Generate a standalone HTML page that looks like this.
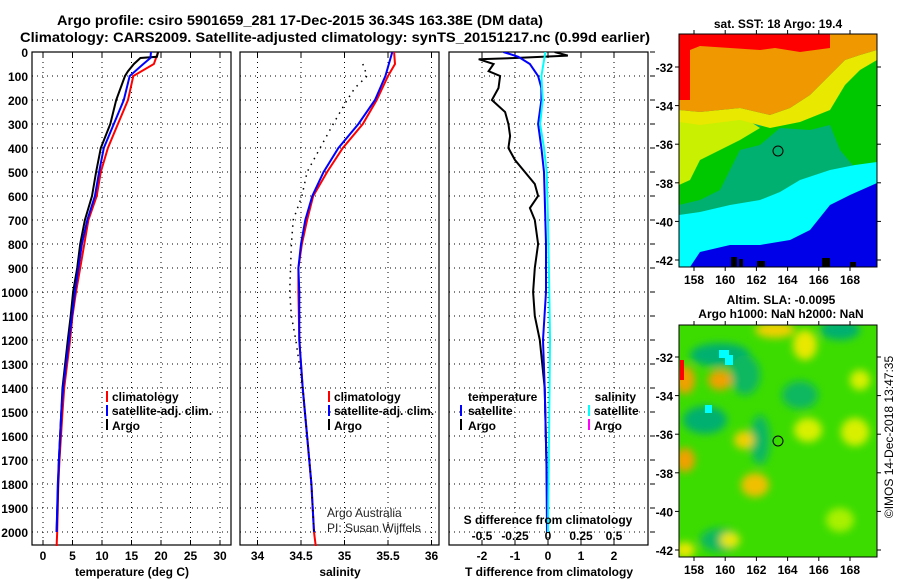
<!DOCTYPE html>
<html><head><meta charset="utf-8">
<style>
html,body{margin:0;padding:0;background:#fff;}
svg{display:block;font-family:"Liberation Sans",sans-serif;}
.b{font-weight:bold;}
</style></head>
<body>
<svg id="fig" width="900" height="580" viewBox="0 0 900 580" xmlns="http://www.w3.org/2000/svg">
<defs>
<filter id="blur" x="-20%" y="-20%" width="140%" height="140%"><feGaussianBlur stdDeviation="4"/></filter>
<clipPath id="clipM1"><rect x="679" y="34" width="198" height="233"/></clipPath>
<clipPath id="clipM2"><rect x="679" y="325" width="198" height="232"/></clipPath>
<clipPath id="clipP1"><rect x="32" y="52" width="199" height="494"/></clipPath>
<clipPath id="clipP2"><rect x="240" y="52" width="199" height="494"/></clipPath>
<clipPath id="clipP3"><rect x="449" y="52" width="199" height="494"/></clipPath>
</defs>
<text class="b" x="300" y="25" font-size="14" text-anchor="middle" textLength="486" lengthAdjust="spacingAndGlyphs">Argo profile: csiro 5901659_281 17-Dec-2015 36.34S 163.38E (DM data)</text>
<text class="b" x="335" y="42" font-size="14" text-anchor="middle" textLength="630" lengthAdjust="spacingAndGlyphs">Climatology: CARS2009. Satellite-adjusted climatology: synTS_20151217.nc (0.99d earlier)</text>

<!-- Map 1 -->
<g clip-path="url(#clipM1)">
<rect x="679" y="34" width="198" height="233" fill="#00b070"/>
<polygon fill="#00c800" points="679,135 720,132 750,128 790,122 820,110 840,80 877,55 877,175 855,168 840,150 830,125 810,130 780,128 760,145 740,150 730,170 720,190 700,200 679,205"/>
<polygon fill="#c8f000" points="679,118 700,122 740,115 760,128 740,140 720,150 700,160 690,180 679,185"/>
<polygon fill="#e8e800" points="679,110 700,112 740,108 770,115 790,108 810,95 825,80 835,70 845,60 860,55 877,50 877,60 860,70 845,85 830,110 800,122 770,128 740,120 700,125 679,122"/>
<polygon fill="#f09800" points="679,34 877,34 877,50 860,55 845,60 835,70 825,80 810,95 790,108 770,115 740,108 700,112 679,110"/>
<polygon fill="#ff0000" points="679,34 830,34 830,48 800,52 775,48 760,50 700,46 690,50 690,100 679,100"/>
<rect x="830" y="34" width="47" height="14" fill="#f09800"/>
<polygon fill="#00ffff" points="679,215 700,212 730,205 760,200 780,192 800,180 830,170 855,165 877,162 877,267 679,267"/>
<polygon fill="#0000e8" points="690,267 700,252 730,245 760,245 790,240 810,230 830,205 850,195 877,183 877,267"/>
<rect x="731" y="257" width="6" height="10" fill="#000"/><rect x="739" y="259" width="4" height="8" fill="#000"/><rect x="757" y="261" width="8" height="6" fill="#000"/><rect x="822" y="258" width="8" height="9" fill="#000"/><rect x="850" y="262" width="6" height="5" fill="#000"/>
<circle cx="778" cy="151" r="5" fill="none" stroke="#000" stroke-width="1"/>
</g>
<rect x="679" y="34" width="198" height="233" fill="none" stroke="#000"/>
<text class="b" x="778" y="28" font-size="12" text-anchor="middle">sat. SST: 18 Argo: 19.4</text>

<!-- Map 2 -->
<g clip-path="url(#clipM2)">
<rect x="679" y="325" width="198" height="232" fill="#3cdc00"/>
<g filter="url(#blur)">
<ellipse cx="720" cy="355" rx="30" ry="12" fill="#00b070"/>
<ellipse cx="705" cy="420" rx="22" ry="14" fill="#00b070"/>
<ellipse cx="840" cy="330" rx="20" ry="10" fill="#00b070"/>
<ellipse cx="760" cy="440" rx="10" ry="25" fill="#10b860"/>
<ellipse cx="745" cy="375" rx="15" ry="20" fill="#10b860"/>
<ellipse cx="720" cy="540" rx="20" ry="12" fill="#10b860"/>
<ellipse cx="800" cy="395" rx="18" ry="14" fill="#10b860"/>
<ellipse cx="720" cy="380" rx="12" ry="10" fill="#f0a000"/>
<ellipse cx="685" cy="380" rx="10" ry="14" fill="#f0a000"/>
<ellipse cx="685" cy="460" rx="10" ry="12" fill="#f0a000"/>
<ellipse cx="755" cy="485" rx="14" ry="12" fill="#f0c000"/>
<ellipse cx="744" cy="440" rx="10" ry="9" fill="#f0d000"/>
<ellipse cx="775" cy="330" rx="20" ry="8" fill="#f0d000"/>
<ellipse cx="805" cy="345" rx="12" ry="15" fill="#e8e800"/>
<ellipse cx="808" cy="430" rx="14" ry="12" fill="#d8f000"/>
<ellipse cx="855" cy="432" rx="14" ry="14" fill="#d8f000"/>
<ellipse cx="860" cy="380" rx="10" ry="10" fill="#d8f000"/>
<ellipse cx="730" cy="540" rx="10" ry="8" fill="#e8e800"/>
<ellipse cx="685" cy="550" rx="10" ry="8" fill="#e8e800"/>
<ellipse cx="840" cy="520" rx="14" ry="12" fill="#a8f000"/>
</g>
<rect x="680" y="360" width="4" height="20" fill="#ff0000"/>
<rect x="719" y="350" width="10" height="8" fill="#00ffff"/><rect x="725" y="355" width="8" height="10" fill="#00ffff"/><rect x="705" y="405" width="7" height="8" fill="#00ffff"/>
<circle cx="778" cy="441" r="5" fill="none" stroke="#000" stroke-width="1"/>
</g>
<rect x="679" y="325" width="198" height="232" fill="none" stroke="#000"/>
<text class="b" x="781" y="304" font-size="12" text-anchor="middle">Altim. SLA: -0.0095</text>
<text class="b" x="781" y="318" font-size="12" text-anchor="middle">Argo h1000: NaN h2000: NaN</text>
<text x="897" y="441" font-size="12" text-anchor="middle" transform="rotate(-90 893 441)">©IMOS 14-Dec-2018 13:47:35</text>

<g id="plots"></g>

<!-- legends & annotations -->
<g class="b" font-size="12">
<rect x="106" y="391" width="2" height="11" fill="#f00"/><text x="112" y="401">climatology</text>
<rect x="106" y="405" width="2" height="11" fill="#00f"/><text x="112" y="415">satellite-adj. clim.</text>
<rect x="106" y="419" width="2" height="11" fill="#000"/><text x="112" y="430">Argo</text>
</g>
<g class="b" font-size="12">
<rect x="328" y="391" width="2" height="11" fill="#f00"/><text x="334" y="401">climatology</text>
<rect x="328" y="405" width="2" height="11" fill="#00f"/><text x="334" y="415">satellite-adj. clim.</text>
<rect x="328" y="419" width="2" height="11" fill="#000"/><text x="334" y="430">Argo</text>
</g>
<g class="b" font-size="12">
<text x="468" y="401">temperature</text>
<text x="636" y="401" text-anchor="end">salinity</text>
<rect x="460" y="405" width="2" height="11" fill="#00f"/><text x="468" y="415">satellite</text>
<rect x="460" y="419" width="2" height="11" fill="#000"/><text x="468" y="430">Argo</text>
<rect x="588" y="405" width="2" height="11" fill="#0ff"/><text x="594" y="415">satellite</text>
<rect x="588" y="419" width="2" height="11" fill="#f0f"/><text x="594" y="430">Argo</text>
</g>
<text x="327" y="517" font-size="12" fill="#222">Argo Australia</text>
<text x="327" y="532" font-size="12" fill="#222">PI: Susan Wijffels</text>
<text class="b" x="548" y="524" font-size="12" text-anchor="middle">S difference from climatology</text>
</svg>
<script>
// ---------- data ----------
const depthTicks = [0,100,200,300,400,500,600,700,800,900,1000,1100,1200,1300,1400,1500,1600,1700,1800,1900,2000];
const tempTicks = [0,5,10,15,20,25,30];
const salTicks = [34,34.5,35,35.5,36];
const salTickLabels = ["34","34.5","35","35.5","36"];
const tdiffTicks = [-2,-1,0,1,2];
const sdiffTicks = [-0.5,-0.25,0,0.25,0.5];
const sdiffTickLabels = ["-0.5","-0.25","0","0.25","0.5"];

const tempClimDepth = [0,50,100,200,300,400,500,600,700,800,900,1000,1100,1200,1400,1500,1700,1800,2000,2060];
const tempClim = [19.5,18.8,15.3,14.4,12.7,11.0,9.8,9.1,7.7,7.0,6.3,5.6,5.0,4.6,3.6,3.3,2.8,2.6,2.4,2.3];
const tempSatDepth = [0,25,50,100,200,300,400,500,600,700,800,1000,1200,1400,1500,1700,1800,2000];
const tempSat = [18.3,18.2,17.0,14.7,13.7,12.0,10.3,9.5,8.8,7.5,6.6,5.4,4.4,3.4,3.1,2.7,2.5,2.3];
const tempArgoDepth = [0,20,25,50,80,100,200,300,400,500,600,700,800,900,1000,1100,1200,1400,1700,2000];
const tempArgo = [19.5,19.3,16.5,15.4,14.4,13.9,12.4,11.4,9.8,9.0,8.3,7.1,6.3,5.8,5.1,4.7,4.2,3.3,2.7,2.3];

const salClimDepth = [0,50,100,200,300,400,500,600,700,800,900,1000,1200,1400,1600,1800,2000,2060];
const salClim = [35.57,35.58,35.5,35.37,35.21,34.98,34.8,34.64,34.57,34.51,34.47,34.47,34.48,34.52,34.57,34.62,34.65,34.67];
const salSatDepth = [0,100,200,300,400,500,600,700,800,900,1000,1200,1400,1600,1800,2000];
const salSat = [35.55,35.47,35.35,35.16,34.93,34.76,34.63,34.55,34.5,34.47,34.48,34.48,34.52,34.57,34.62,34.65];
const salArgoDepth = [50,100,150,200,300,400,500,600,700,800,1000,1100,1200,1400,1600,1800,2000];
const salArgo = [35.21,35.26,35.12,35.03,34.87,34.72,34.57,34.51,34.41,34.39,34.37,34.39,34.44,34.52,34.57,34.62,34.65];

const tdiffArgoDepth = [0,15,25,30,50,80,100,150,200,250,300,350,400,450,500,550,600,650,700,800,900,1000,1100,1200,1400,1700,2000];
const tdiffArgo = [0.2,0.6,-1.0,-2.1,-1.65,-1.8,-1.45,-1.5,-1.7,-1.3,-1.2,-1.15,-1.2,-1.0,-0.7,-0.4,-0.3,-0.55,-0.4,-0.3,-0.4,-0.45,-0.4,-0.25,-0.1,-0.05,0];
const tdiffSatDepth = [0,20,50,100,150,200,300,400,500,600,800,1000,1200,1400,1700,2000];
const tdiffSat = [-1.35,-0.9,-0.55,-0.3,-0.2,-0.2,-0.3,-0.2,-0.12,-0.1,-0.06,-0.06,-0.15,-0.1,-0.05,-0.03];
const sdiffSatDepth = [0,100,200,300,400,500,700,1000,1200,1500,2000];
const sdiffSat = [-0.02,-0.05,-0.04,-0.06,-0.03,-0.01,0,0.01,0.015,0.01,0];

const mapLonTicks = [158,160,162,164,166,168];
const mapLatTicks = [-32,-34,-36,-38,-40,-42];

// ---------- axes ----------
const NS = "http://www.w3.org/2000/svg";
const root = document.getElementById('plots');
const yD = d => 52 + 0.24 * d;
const xT = t => 43 + 5.9 * t;
const xS = s => 301 + 87 * (s - 34.5);
const xTD = v => 548 + 33 * v;
const xSD = v => 548 + 132 * v;
const xLon = l => 694 + 15.6 * (l - 158);
const yLat1 = l => 67 + 19.3 * (-32 - l);
const yLat2 = l => 357 + 19.3 * (-32 - l);

function mk(tag, attrs, parent) {
  const e = document.createElementNS(NS, tag);
  for (const k in attrs) e.setAttribute(k, attrs[k]);
  (parent || root).appendChild(e);
  return e;
}
function txt(str, attrs, parent) { const t = mk('text', attrs, parent); t.textContent = str; return t; }

const panels = [
  {name:'temperature-panel', x0:32, clip:'clipP1', ticks:tempTicks, labels:tempTicks.map(String), xf:xT, title:'temperature (deg C)'},
  {name:'salinity-panel', x0:240, clip:'clipP2', ticks:salTicks, labels:salTickLabels, xf:xS, title:'salinity'},
  {name:'difference-panel', x0:449, clip:'clipP3', ticks:tdiffTicks, labels:tdiffTicks.map(String), xf:xTD, title:'T difference from climatology'}
];
panels.forEach(p => {
  const g = mk('g', {});
  
  
  p.ticks.forEach(t => {
    const x = p.xf(t);
    const l = mk('line', {x1:x, x2:x, y1:52, y2:545, stroke:'#000', 'stroke-width':1, 'stroke-dasharray':'1 4'}, g);
    
    
    mk('line', {x1:x, x2:x, y1:52, y2:57, stroke:'#000'}, g);
    mk('line', {x1:x, x2:x, y1:545, y2:540, stroke:'#000'}, g);
  });
  p.labels.forEach((s, i) => {
    const t = txt(s, {x:p.xf(p.ticks[i]), y:560, 'font-size':12, 'text-anchor':'middle', class:'b'}, g);
    
    
  });
  depthTicks.forEach(d => {
    const l = mk('line', {x1:p.x0, x2:p.x0+199, y1:yD(d), y2:yD(d), stroke:'#000', 'stroke-width':1, 'stroke-dasharray':'1 4'}, g);
    
    
  });
  const tt = txt(p.title, {x:p.x0+100, y:576, 'font-size':12, 'text-anchor':'middle', class:'b'}, g);
  
  
  const fr = mk('rect', {x:p.x0, y:52, width:199, height:493, fill:'none', stroke:'#000', 'stroke-width':1.2}, g);
  
  
});
depthTicks.forEach(d => {
  const t = txt(String(d), {x:28, y:yD(d)+5, 'font-size':12, 'text-anchor':'end', class:'b'});
  
  
});
for (const d of depthTicks) mk('line', {x1:650, x2:655, y1:yD(d), y2:yD(d), stroke:'#000'});
sdiffTicks.forEach((v, i) => {
  const t = txt(sdiffTickLabels[i], {x:xSD(v), y:540, 'font-size':12, 'text-anchor':'middle', class:'b'});
  
  
});

function series(xs, ds, xf, color, name, clip, dash, w) {
  const pts = xs.map((v, i) => xf(v).toFixed(1) + ',' + yD(ds[i]).toFixed(1)).join(' ');
  const a = {points:pts, fill:'none', stroke:color, 'stroke-width':w || 2, 'clip-path':'url(#'+clip+')'};
  if (dash) a['stroke-dasharray'] = dash;
  const e = mk('polyline', a);
  
  
}
series(tempClim, tempClimDepth, xT, '#f00', 'temperature-climatology-line', 'clipP1');
series(tempArgo, tempArgoDepth, xT, '#000', 'temperature-argo-line', 'clipP1');
series(tempSat, tempSatDepth, xT, '#00f', 'temperature-satellite-line', 'clipP1');
series(salClim, salClimDepth, xS, '#f00', 'salinity-climatology-line', 'clipP2');
series(salSat, salSatDepth, xS, '#00f', 'salinity-satellite-line', 'clipP2');
series(salArgo, salArgoDepth, xS, '#000', 'salinity-argo-line', 'clipP2', '1.5 5', 1.5);
series(tdiffArgo, tdiffArgoDepth, xTD, '#000', 'tdiff-argo-line', 'clipP3');
series(tdiffSat, tdiffSatDepth, xTD, '#00f', 'tdiff-satellite-line', 'clipP3');
series(sdiffSat, sdiffSatDepth, xSD, '#0ff', 'sdiff-satellite-line', 'clipP3');

// map axes
const svg = document.getElementById('fig');
[[34,267,yLat1],[325,557,yLat2]].forEach(([top, bot, yf]) => {
  mapLonTicks.forEach(l => {
    const x = xLon(l);
    mk('line', {x1:x, x2:x, y1:top, y2:top-4, stroke:'#000'}, svg);
    mk('line', {x1:x, x2:x, y1:bot, y2:bot+4, stroke:'#000'}, svg);
    const t = txt(String(l), {x:x, y:bot+17, 'font-size':12, 'text-anchor':'middle', class:'b'}, svg);
    
    
  });
  mapLatTicks.forEach(l => {
    const y = yf(l);
    mk('line', {x1:679, x2:675, y1:y, y2:y, stroke:'#000'}, svg);
    mk('line', {x1:877, x2:881, y1:y, y2:y, stroke:'#000'}, svg);
    const t = txt(String(l), {x:673, y:y+5, 'font-size':12, 'text-anchor':'end', class:'b'}, svg);
    
    
  });
});
</script>
</body></html>
